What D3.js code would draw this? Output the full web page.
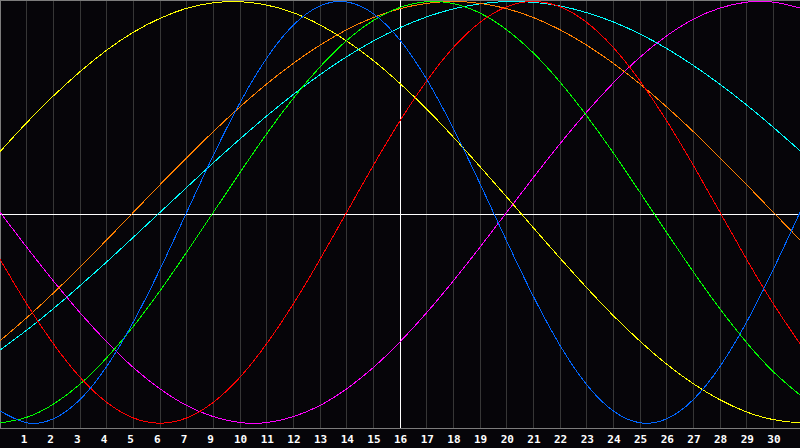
<!DOCTYPE html>
<html lang="en">
<head>
  <meta charset="UTF-8">
  <title>Biorhythm</title>
  <style>
    html, body { margin: 0; padding: 0; background: #000; }
    svg { display: block; }
    .grid { stroke: #363636; stroke-width: 1px; shape-rendering: crispEdges; }
    .frame { stroke: #7c7c7c; stroke-width: 1px; shape-rendering: crispEdges; }
    .axisline { stroke: #ffffff; stroke-width: 1px; shape-rendering: crispEdges; }
    .curve { fill: none; stroke-width: 1px; shape-rendering: crispEdges; }
    .tick { fill: #ffffff; font-family: "DejaVu Sans Mono", monospace; font-weight: bold; font-size: 11px; }
  </style>
</head>
<body>
  <script src="https://cdn.jsdelivr.net/npm/d3@7"></script>
  <script>
    // positions 0..30 along the x axis, values in percent
    const days = d3.range(0, 31);
    const tickPos = d3.range(1, 30);
    const tickLabels = ['1','2','3','4','5','6','7','9','10','11','12','13','14','15','16',
      '17','18','19','20','21','22','23','24','25','26','27','28','29','30'];

    const blue    = [-94.2,-99.8,-97.9,-88.8,-73.1,-52.0,-27.0,0,27.0,52.0,73.1,88.8,97.9,99.8,94.2,81.7,
                     63.1,39.8,13.6,-13.6,-39.8,-63.1,-81.7,-94.2,-99.8,-97.9,-88.8,-73.1,-52.0,-27.0,0];
    const red     = [-22.3,-43.4,-62.3,-78.2,-90.1,-97.5,-100,-97.5,-90.1,-78.2,-62.3,-43.4,-22.3,0,22.3,43.4,
                     62.3,78.2,90.1,97.5,100,97.5,90.1,78.2,62.3,43.4,22.3,0,-22.3,-43.4,-62.3];
    const green   = [-99.9,-97.2,-91.0,-81.5,-69.0,-54.1,-37.2,-18.9,0,18.9,37.2,54.1,69.0,81.5,91.0,97.2,
                     99.9,99.0,94.5,86.6,75.6,61.8,45.8,28.2,9.5,-9.5,-28.2,-45.8,-61.8,-75.6,-86.6];
    const orange  = [-60.9,-50.0,-38.3,-25.9,-13.1,0,13.1,25.9,38.3,50.0,60.9,70.7,79.3,86.6,92.4,96.6,
                     99.1,100,99.1,96.6,92.4,86.6,79.3,70.7,60.9,50.0,38.3,25.9,13.1,0,-13.1];
    const cyan    = [-65.3,-55.9,-45.7,-34.8,-23.5,-11.8,0,11.8,23.5,34.8,45.7,55.9,65.3,73.8,81.3,87.6,
                     92.7,96.5,98.9,100,99.6,97.9,94.7,90.3,84.6,77.7,69.7,60.7,50.9,40.3,29.2];
    const magenta = [0,-16.5,-32.5,-47.6,-61.4,-73.6,-83.7,-91.6,-96.9,-99.7,-99.7,-96.9,-91.6,-83.7,-73.6,-61.4,
                     -47.6,-32.5,-16.5,0,16.5,32.5,47.6,61.4,73.6,83.7,91.6,96.9,99.7,99.7,96.9];
    const yellow  = [28.8,42.5,55.2,66.7,76.9,85.4,92.0,96.8,99.4,99.9,98.3,94.7,88.9,81.3,72.0,61.1,
                     49.0,35.7,21.7,7.3,-7.3,-21.7,-35.7,-49.0,-61.1,-72.0,-81.3,-88.9,-94.7,-98.3,-99.9];

    const series = [
      { color: '#ffff00', values: yellow },
      { color: '#ff00ff', values: magenta },
      { color: '#00ffff', values: cyan },
      { color: '#ff8000', values: orange },
      { color: '#00ff00', values: green },
      { color: '#ff0000', values: red },
      { color: '#0066ff', values: blue }
    ];

    const width = 800, height = 448, plotH = 428;
    const x = d3.scaleLinear().domain([0, 30]).range([0, width]);
    const y = d3.scaleLinear().domain([-100, 100]).range([423.2, 1.5]);

    const svg = d3.select('body').append('svg')
      .attr('width', width)
      .attr('height', height);

    svg.append('rect')
      .attr('width', width).attr('height', height)
      .attr('fill', '#060509');

    // day grid
    svg.selectAll('line.grid')
      .data(tickPos)
      .enter()
      .append('line')
      .attr('class', 'grid')
      .attr('x1', d => x(d)).attr('x2', d => x(d))
      .attr('y1', 0).attr('y2', plotH);

    // frame
    svg.append('line').attr('class', 'frame')
      .attr('x1', 0.5).attr('x2', 0.5).attr('y1', 0).attr('y2', plotH);
    svg.append('line').attr('class', 'frame')
      .attr('x1', 0).attr('x2', width).attr('y1', 0.5).attr('y2', 0.5);
    svg.append('line').attr('class', 'frame')
      .attr('x1', 0).attr('x2', width).attr('y1', plotH + 0.5).attr('y2', plotH + 0.5);

    // centre cross
    svg.append('line').attr('class', 'axisline')
      .attr('x1', 0).attr('x2', width)
      .attr('y1', plotH / 2 + 0.5).attr('y2', plotH / 2 + 0.5);
    svg.append('line').attr('class', 'axisline')
      .attr('x1', x(15)).attr('x2', x(15))
      .attr('y1', 0).attr('y2', plotH);

    const line = d3.line()
      .x((d, i) => x(days[i]))
      .y(d => y(d))
      .curve(d3.curveNatural);

    svg.selectAll('path.curve')
      .data(series)
      .enter()
      .append('path')
      .attr('class', 'curve')
      .attr('stroke', d => d.color)
      .attr('d', d => line(d.values));

    svg.selectAll('text.tick')
      .data(tickPos)
      .enter()
      .append('text')
      .attr('class', 'tick')
      .attr('x', d => x(d) - 6)
      .attr('y', 443)
      .text((d, i) => tickLabels[i]);
  </script>
</body>
</html>
